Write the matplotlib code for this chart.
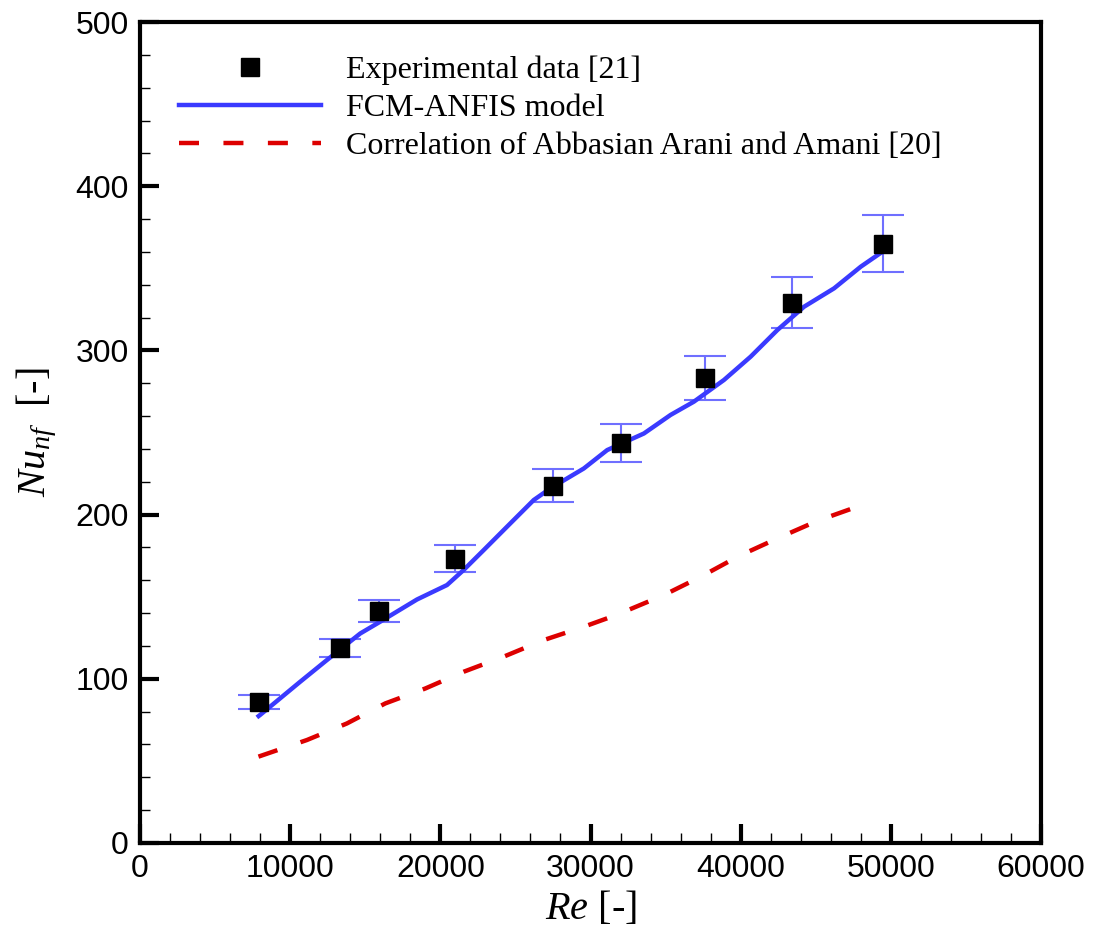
import matplotlib
matplotlib.use("Agg")
import matplotlib.pyplot as plt
from matplotlib.ticker import MultipleLocator

# Experimental data [21]
exp_re = [7900, 13300, 15900, 21000, 27500, 32000, 37600, 43400, 49450]
exp_nu = [86, 118.5, 141.5, 173, 217.5, 243.5, 283, 329, 365]
exp_err = [4.1, 5.5, 6.7, 8.2, 10.1, 11.5, 13.4, 15.5, 17.4]

# FCM-ANFIS model
anfis_re = [7900, 8000, 10667, 12444, 14667, 16000, 18444, 20444, 21556, 22889, 24667,
            26222, 27333, 29556, 31111, 33556, 35333, 36889, 38889, 40667, 42444,
            44222, 46222, 48000, 49444]
anfis_nu = [77.3, 78, 98.2, 111.4, 127.6, 134.8, 148.3, 157.1, 166.3, 178.4, 194.7,
            208.9, 216, 228.1, 239.3, 249.4, 260.7, 268.8, 282, 296.2, 312.4,
            326.6, 337.8, 351, 360.1]

# Correlation of Abbasian Arani and Amani [20]
corr_re = [7889, 11111, 13778, 16333, 19000, 21556, 24222, 26889, 29556, 31733,
           34889, 37333, 39889, 42444, 45111, 48500]
corr_nu = [52.6, 62.7, 72.8, 85, 94.1, 104.3, 113.5, 123.6, 131.7, 138.9,
           151, 162.1, 174.8, 185.5, 196.2, 207.2]

xticks = [0, 10000, 20000, 30000, 40000, 50000, 60000]
yticks = [0, 100, 200, 300, 400, 500]

plt.rcParams['mathtext.fontset'] = 'custom'
plt.rcParams['mathtext.it'] = 'Liberation Serif:italic'
plt.rcParams['mathtext.rm'] = 'Liberation Serif'

fig = plt.figure(figsize=(10.94, 9.34), dpi=100)
ax = fig.add_axes([140/1094, 91/934, 901/1094, 821/934])

ax.errorbar(exp_re, exp_nu, yerr=exp_err, fmt='none', ecolor='#6f6fff',
            elinewidth=1.5, capsize=15, capthick=1.5, zorder=2)
ax.plot(anfis_re, anfis_nu, color='#3a3aff', lw=3.2, zorder=3, label='FCM-ANFIS model')
ax.plot(corr_re, corr_nu, color='#dd0000', lw=3.2, dashes=(4.5, 5.5), zorder=3,
        label='Correlation of Abbasian Arani and Amani [20]')
ax.plot(exp_re, exp_nu, 's', color='black', ms=13, zorder=4, label='Experimental data [21]')

ax.set_xlim(0, 60000)
ax.set_ylim(0, 500)
ax.set_xticks(xticks)
ax.set_yticks(yticks)
ax.xaxis.set_minor_locator(MultipleLocator(2000))
ax.yaxis.set_minor_locator(MultipleLocator(20))
ax.tick_params(which='both', direction='in', top=False, right=False)
ax.tick_params(which='major', length=14, width=3, labelsize=23, pad=8)
ax.tick_params(which='minor', length=7, width=1)
for lab in ax.get_xticklabels() + ax.get_yticklabels():
    lab.set_family('Liberation Sans')
for s in ax.spines.values():
    s.set_linewidth(3)

ax.set_xlabel(r'$Re$ [-]', fontsize=29, family='Liberation Serif', labelpad=4)
ax.set_ylabel(r'$Nu_{nf}$  [-]', fontsize=29, family='Liberation Serif', labelpad=12)

h, l = ax.get_legend_handles_labels()
order = [2, 0, 1]
leg = ax.legend([h[i] for i in order], [l[i] for i in order], loc='upper left',
                bbox_to_anchor=(0.011, 0.994), frameon=False,
                prop={'family': 'Liberation Serif', 'size': 23},
                handlelength=4.45, handletextpad=0.78, labelspacing=0.27)

fig.savefig('out.png', dpi=100)
